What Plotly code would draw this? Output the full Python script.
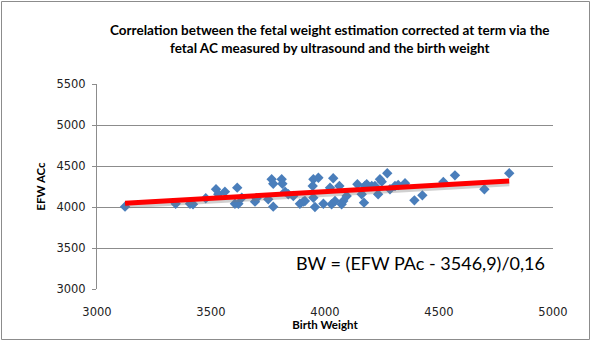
import plotly.graph_objects as go
import numpy as np

# Data
birth_weight = [3123, 3345, 3408, 3421, 3477, 3522, 3532, 3561, 3615, 3605, 3620, 3635,
                3693, 3700, 3751, 3766, 3773, 3810, 3813, 3773, 3825, 3839, 3861, 3890,
                3905, 3912, 3949, 3971, 3946, 3949, 3956, 3993, 4029, 4044, 4036, 4022,
                4063, 4073, 4080, 4095, 4142, 4175, 4183, 4171, 4161, 4205, 4219, 4241,
                4249, 4273, 4233, 4285, 4307, 4321, 4351, 4392, 4427, 4519, 4570, 4699,
                4808]
efw_acc = [4004, 4040, 4040, 4033, 4106, 4216, 4155, 4187, 4236, 4040, 4040, 4113,
           4065, 4106, 4093, 4338, 4284, 4338, 4284, 4004, 4187, 4155, 4134, 4040,
           4065, 4073, 4338, 4357, 4256, 4113, 4000, 4040, 4033, 4073, 4350, 4236,
           4256, 4033, 4073, 4134, 4277, 4256, 4277, 4053, 4155, 4256, 4256, 4338,
           4309, 4411, 4155, 4216, 4256, 4268, 4289, 4081, 4142, 4305, 4386, 4216,
           4411]
intercept = 3546.9
slope = 0.16
x_ticks = [3000, 3500, 4000, 4500, 5000]
y_ticks = [3000, 3500, 4000, 4500, 5000, 5500]

W, H = 591, 341
L, R, T, B = 97, 553, 84, 289

fx = np.array([min(birth_weight), max(birth_weight)])
fy = intercept + slope * fx

fig = go.Figure()
fig.add_trace(go.Scatter(x=birth_weight, y=efw_acc, mode="markers",
                         marker=dict(symbol="diamond", size=8, color="#4A7EBB"),
                         showlegend=False, hoverinfo="skip"))
# shadow of trend line
fig.add_trace(go.Scatter(x=fx, y=fy - 28, mode="lines",
                         line=dict(color="rgba(120,120,120,0.35)", width=6),
                         showlegend=False, hoverinfo="skip"))
fig.add_trace(go.Scatter(x=fx, y=fy, mode="lines",
                         line=dict(color="#FF0000", width=5),
                         showlegend=False, hoverinfo="skip"))

def px_x(p):
    return (p - L) / (R - L)

def px_y(p):
    return (B - p) / (B - T)

font_family = "Lato, 'Open Sans', sans-serif"
tick_font = "'DejaVu Sans', sans-serif"

fig.update_layout(
    width=W, height=H,
    margin=dict(l=L, r=W - R, t=T, b=H - B),
    paper_bgcolor="white", plot_bgcolor="white",
    font=dict(family=font_family, color="#000000"),
    xaxis=dict(range=[3000, 5000], tickvals=x_ticks, showgrid=False, zeroline=False,
               showline=False, ticks="", ticklabelstandoff=14,
               tickfont=dict(size=11.5, color="#222222", family=tick_font),
               title=dict(text="<b>Birth Weight</b>", font=dict(size=11.5), standoff=0)),
    yaxis=dict(range=[3000, 5500], tickvals=y_ticks, showgrid=True, gridcolor="#8C8C8C",
               gridwidth=1, zeroline=False, showline=True, linecolor="#8C8C8C",
               ticks="outside", ticklen=4, tickcolor="#8C8C8C",
               tickfont=dict(size=11.5, color="#222222", family=tick_font),
               ticklabelstandoff=4,
               title=dict(text="<b>EFW ACc</b>", font=dict(size=11.5), standoff=8)),
    shapes=[dict(type="rect", xref="paper", yref="paper",
                 x0=px_x(1.5), x1=px_x(589.5), y0=px_y(339.5), y1=px_y(1.5),
                 line=dict(color="#8C8C8C", width=1))],
    annotations=[
        dict(text="<b>Correlation between the fetal weight estimation corrected at term via the<br>fetal AC measured by ultrasound and the birth weight</b>",
             xref="paper", yref="paper", x=px_x(330), y=px_y(39), xanchor="center",
             yanchor="middle", showarrow=False, align="center",
             font=dict(size=13.5, color="#000000")),
        dict(text="BW = (EFW PAc - 3546,9)/0,16", xref="paper", yref="paper",
             x=px_x(547), y=px_y(263), xanchor="right", yanchor="middle",
             showarrow=False, font=dict(size=18, color="#000000")),
    ],
)

fig.write_html("out.html")
